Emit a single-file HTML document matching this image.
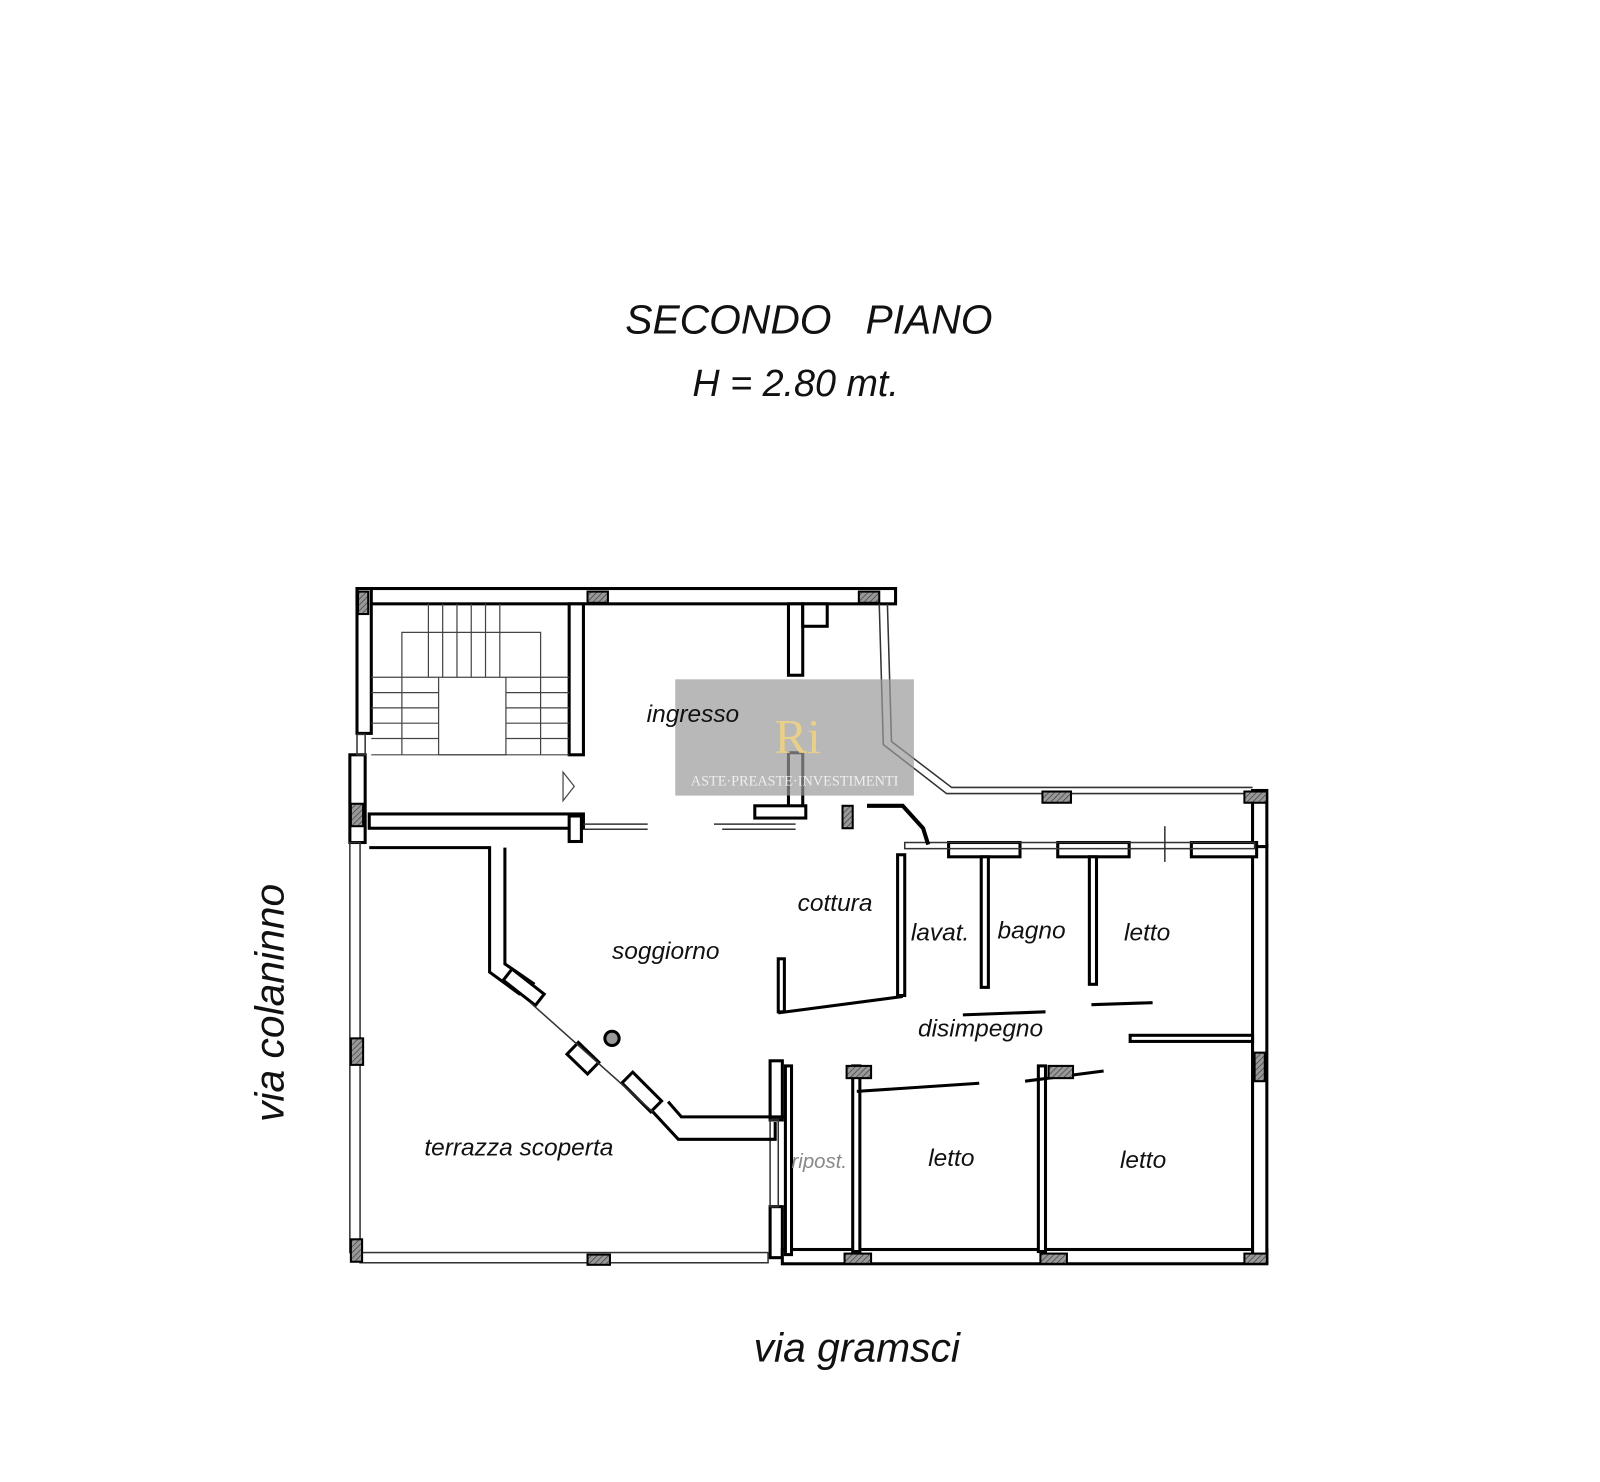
<!DOCTYPE html>
<html><head><meta charset="utf-8"><style>
html,body{margin:0;padding:0;background:#fff;}
svg{display:block}
text{font-family:"Liberation Sans",Arial,sans-serif;font-style:italic;fill:#111;}
</style></head><body>
<svg width="1600" height="1482" viewBox="0 0 1600 1482" xmlns="http://www.w3.org/2000/svg">
<defs>
<pattern id="h" width="4" height="4" patternUnits="userSpaceOnUse" patternTransform="rotate(45)"><rect width="4" height="4" fill="#999"/><line x1="0" y1="0" x2="0" y2="4" stroke="#444" stroke-width="1.5"/></pattern>
</defs>
<g transform="scale(1.02)">
<text x="793" y="327" font-size="40" text-anchor="middle">SECONDO&#160;&#160;&#160;PIANO</text>
<text x="780" y="388" font-size="37" text-anchor="middle">H = 2.80 mt.</text>

<g fill="#fff" stroke="#000" stroke-width="3">
<rect x="350" y="577" width="528" height="15"/>
<rect x="350" y="577" width="14" height="142"/>
<rect x="343" y="740" width="15" height="86"/>
<rect x="558" y="592" width="14" height="148"/>
<rect x="362" y="798" width="210" height="14"/>
<rect x="558" y="800" width="12" height="25"/>
<rect x="773" y="592" width="14" height="70"/>
<rect x="787" y="592" width="24" height="22"/>
<rect x="773" y="738" width="14" height="58"/>
<rect x="740" y="790" width="50" height="12"/>
<rect x="755" y="1040" width="12" height="58"/>
<rect x="755" y="1183" width="12" height="50"/>
<rect x="767" y="1225" width="475" height="14"/>
<rect x="1228" y="828" width="14" height="410"/>
<rect x="1228" y="775" width="14" height="55"/>
<rect x="930" y="826" width="70" height="14"/>
<rect x="1037" y="826" width="70" height="14"/>
<rect x="1168" y="826" width="64" height="14"/>
<rect x="836" y="1045" width="7" height="182"/>
<rect x="1018" y="1045" width="7" height="182"/>
<rect x="962" y="840" width="7" height="128"/>
<rect x="1068" y="840" width="7" height="125"/>
<rect x="880" y="838" width="7" height="138"/>
<rect x="763" y="940" width="6" height="52"/>
<rect x="1108" y="1015" width="120" height="6"/>
<rect x="770" y="1045" width="6" height="185"/>
</g>
<g fill="none" stroke="#333" stroke-width="1.5">
<rect x="343" y="826" width="10" height="402"/>
<rect x="353" y="1228" width="400" height="10"/>
<rect x="350" y="720" width="8" height="20"/>
<rect x="755" y="1098" width="8" height="85"/>
<polyline points="862,592 866,730 928,778 1228,778"/>
<polyline points="870,592 874,727 933,772 1228,772"/>
<rect x="887" y="826" width="343" height="6"/>
<line x1="572" y1="808" x2="635" y2="808"/><line x1="572" y1="813" x2="635" y2="813"/>
<line x1="700" y1="808" x2="780" y2="808"/><line x1="708" y1="813" x2="780" y2="813"/>
<line x1="1142" y1="810" x2="1142" y2="845"/>
</g>
<g fill="none" stroke="#444" stroke-width="1.2">
<polyline points="394,740 394,620 530,620 530,740"/>
<rect x="430" y="664" width="66" height="76"/>
<line x1="420" y1="592" x2="420" y2="664"/><line x1="434" y1="592" x2="434" y2="664"/><line x1="448" y1="592" x2="448" y2="664"/><line x1="462" y1="592" x2="462" y2="664"/><line x1="476" y1="592" x2="476" y2="664"/><line x1="490" y1="592" x2="490" y2="664"/>
<line x1="364" y1="664" x2="430" y2="664"/><line x1="364" y1="679" x2="430" y2="679"/><line x1="364" y1="694" x2="430" y2="694"/><line x1="364" y1="709" x2="430" y2="709"/><line x1="364" y1="724" x2="430" y2="724"/>
<line x1="496" y1="664" x2="558" y2="664"/><line x1="496" y1="679" x2="558" y2="679"/><line x1="496" y1="694" x2="558" y2="694"/><line x1="496" y1="709" x2="558" y2="709"/><line x1="496" y1="724" x2="558" y2="724"/>
<line x1="364" y1="740" x2="558" y2="740"/>
<polygon points="552,757 563,771 552,785"/>
</g>
<g fill="none" stroke="#000" stroke-width="3">
<polyline points="362,831 480,831 480,953 510,975"/>
<polyline points="495,831 495,945 524,965"/>
<polyline points="640,1090 665,1117 760,1117 760,1100"/>
<polyline points="655,1080 668,1095 770,1095"/>
<rect x="0" y="0" width="40" height="14" transform="translate(502,950) rotate(38)"/>
<rect x="0" y="0" width="28" height="16" transform="translate(567,1022) rotate(44)"/>
<rect x="0" y="0" width="40" height="15" transform="translate(638,1090) rotate(-135)"/>
<polyline points="850,790 885,790 905,812 910,828" stroke-width="4"/>
<polyline points="763,993 885,977"/>
<polyline points="944,995 1025,992"/><polyline points="1070,985 1130,983"/>
<polyline points="840,1070 960,1062"/><polyline points="1005,1060 1082,1050"/>
</g>
<circle cx="600" cy="1018" r="7" fill="#999" stroke="#000" stroke-width="3"/>
<line x1="520" y1="983" x2="640" y2="1090" stroke="#333" stroke-width="1.5"/>
<g fill="url(#h)" stroke="#000" stroke-width="2">
<rect x="351" y="580" width="10" height="22"/><rect x="576" y="580" width="20" height="11"/><rect x="842" y="580" width="20" height="11"/>
<rect x="344" y="788" width="12" height="22"/><rect x="344" y="1018" width="12" height="26"/><rect x="344" y="1215" width="11" height="22"/>
<rect x="576" y="1230" width="22" height="10"/><rect x="826" y="790" width="10" height="22"/>
<rect x="1022" y="776" width="28" height="11"/><rect x="1220" y="776" width="22" height="11"/>
<rect x="1230" y="1032" width="10" height="28"/><rect x="828" y="1229" width="26" height="10"/><rect x="1020" y="1229" width="26" height="10"/><rect x="1220" y="1229" width="22" height="10"/>
<rect x="830" y="1045" width="24" height="12"/><rect x="1028" y="1045" width="24" height="12"/>
</g>
<rect x="662" y="666" width="234" height="114" fill="#9a9a9a" opacity="0.7"/>
<g font-size="24">
<text x="634" y="708">ingresso</text>
<text x="782" y="893">cottura</text>
<text x="893" y="922">lavat.</text>
<text x="978" y="920">bagno</text>
<text x="1102" y="922">letto</text>
<text x="600" y="940">soggiorno</text>
<text x="900" y="1016">disimpegno</text>
<text x="416" y="1133">terrazza scoperta</text>
<text x="910" y="1143">letto</text>
<text x="1098" y="1145">letto</text>
<text x="776" y="1145" font-size="20" style="fill:#888">ripost.</text>
</g>
<text x="0" y="0" font-size="40" transform="translate(278,1100) rotate(-90)">via colaninno</text>
<text x="840" y="1335" font-size="40" text-anchor="middle">via gramsci</text>
<text x="779" y="770" font-size="14" text-anchor="middle" style="font-family:'Liberation Serif',serif;font-style:normal;fill:#eee">ASTE·PREASTE·INVESTIMENTI</text>
<text x="782" y="738" font-size="48" text-anchor="middle" style="font-family:'Liberation Serif',serif;font-style:normal;fill:#e8cf8a">Ri</text>
</g>
</svg>
</body></html>
